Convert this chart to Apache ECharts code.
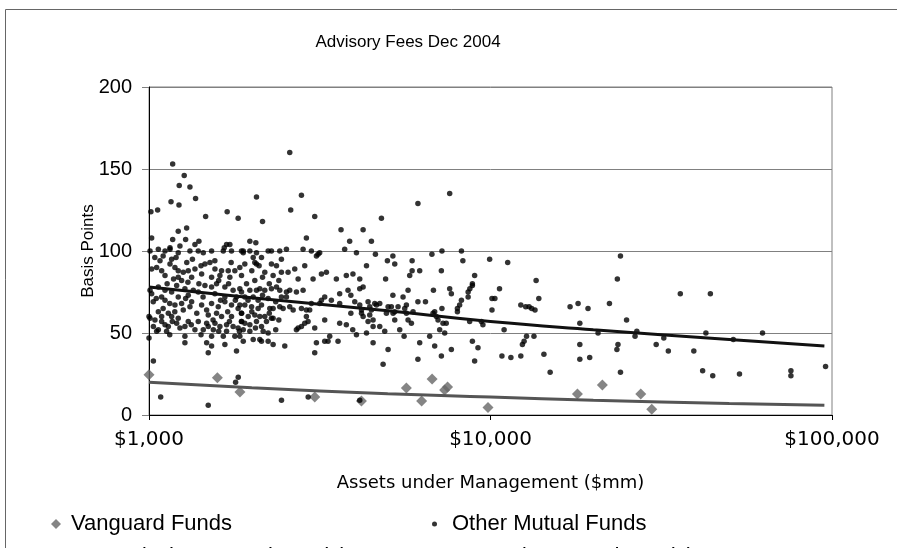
<!DOCTYPE html>
<html>
<head>
<meta charset="utf-8">
<script src="https://cdn.jsdelivr.net/npm/echarts@6/dist/echarts.min.js"></script>
<style>
    html, body { margin: 0; padding: 0; background: #fff; }
    #chart { width: 897px; height: 548px; }
</style>
</head>
<body>
<div id="chart"></div>
<script>
    // Vanguard funds: assets ($mm) and fee (basis points)
    const vanguardAum = [1000, 1586, 1846, 3058, 4188, 5670, 6285, 6745, 7338, 7486, 9834, 17970, 21260, 27540, 29660];
    const vanguardFee = [24.5, 22.7, 14, 11, 8.5, 16.5, 8.5, 22, 15.2, 17, 4.5, 12.8, 18.3, 12.8, 3.5];

    // other mutual funds: [assets ($mm), fee (bp)]
    const otherFunds = [
        [1160,130],[1224,128],[1369,132],[1013,124],[1060,125],[1465,121],[1694,124],[1824,120],
        [1218,112],[1289,114],[1018,108],[1173,107],[1280,107],[1363,104],[1400,106],[1232,103],[1152,102],[1687,104],[1725,104],[1661,102],
        [1007,100],[1065,101],[1114,100],[1152,101],[1218,99],[1318,100],[1394,100],[1442,99],[1525,100],[1650,100],[1744,100],[1866,100],
        [1077,94],[1165,95],[1018,89],[1053,90],[1089,88],[1152,92],[1191,90],[1218,88],[1260,87],[1303,88],[1363,89],[1458,92],[1508,93],[1559,94],
        [1631,88],[1706,88],[1784,88],[1845,90],[1114,85],[1218,84],[1333,84],[1426,86],[1525,84],[1613,85],[1725,84],[1866,85],
        [1246,82],[1205,79],[1007,76],[1065,78],[1114,76],[1165,75],[1274,77],[1348,76],[1458,79],[1525,78],[1577,80],[1668,78],[1763,76],[1845,77],
        [1018,74],[1089,72],[1218,72],[1303,73],[1394,75],[1559,74],[1668,72],[1804,72],
        [1029,69],[1114,70],[1191,67],[1246,68],[1333,69],[1426,67],[1475,64],[1525,68],[1595,66],[1668,69],[1744,67],[1824,65],
        [1065,63],[1139,62],[1260,64],[1318,66],[1491,61],[1577,62],[1631,60],[1744,60],[1866,62],[1000,60],[1089,60],[1165,60],[1218,59],
        [1007,59],[1041,58],[1089,57],[1114,55],[1065,52],[1139,54],[1205,56],[1232,53],[1274,54],[1303,57],[1394,57],[1475,56],[1491,54],
        [1543,52],[1613,54],[1687,55],[1763,54],[1824,53],[1866,57],[1053,51],[1126,51],[1363,52],[1442,52],[1687,51],
        [1000,47],[1274,48],[1525,48],[1650,48],[1784,48],[1274,44],[1475,44],[1668,43],[1804,39],[1491,38],
        [1173,153],[1268,146],[1226,140],[1318,139],[1030,33],[1082,11],[1491,6],[1825,23],[1793,20],[1525,42],
        [1040,96],[1100,97],[1200,96],[1290,93],[1340,95],[1420,91],[1560,89],[1740,93],[1130,80],[1180,83],[1300,81],[1400,80],
        [1600,82],[1710,80],[1050,71],[1150,68],[1280,71],[1440,72],[1620,70],[1790,70],[1100,65],[1190,63],[1380,62],[1540,58],
        [1700,63],[1030,54],[1170,57],[1330,55],[1560,56],[1720,57],[1150,49],[1420,49],[1600,51],[1840,51],
        [2064,133],[2795,134],[2600,125],[2150,118],[3057,121],[3650,113],[2890,108],[3869,106],[2583,160],
        [1974,106],[2055,105],[1888,100],[1974,100],[2064,99],[2233,100],[2283,100],[2415,100],[2526,101],[2826,101],[2989,100],[3161,99],
        [3092,97],[3126,98],[3741,101],[1888,99],
        [2019,96],[2135,96],[1908,92],[2041,93],[2064,92],[2101,91],[2283,92],[2362,91],[2442,95],[2183,87],[2309,85],[2442,87],[2554,87],
        [2672,89],[2858,91],[2733,83],[3023,83],[3198,86],[3537,83],[3783,85],[3307,87],
        [2041,82],[1930,80],[1974,76],[2064,76],[2111,77],[2183,76],[2283,77],[2362,78],[2415,76],[2526,75],[2583,76],[2702,75],[2826,76],
        [3617,74],[3826,76],[1866,75],
        [1908,72],[2019,72],[2087,70],[2233,71],[2442,72],[2526,72],[2989,68],[3198,70],[3270,72],[3420,70],[3617,68],[3161,68],[1845,67],
        [1908,67],[1997,66],[2087,65],[2135,67],[2258,65],[2309,65],[2415,66],[2470,65],[2583,66],[2643,64],[2795,65],[2890,64],[2955,64],
        [1866,62],[1952,60],[2041,61],[2111,60],[2183,60],[2283,59],[1866,57],[1908,56],[1974,55],[2064,57],[2135,54],[2208,57],[2309,59],
        [2890,60],[2923,57],[2858,56],[2795,54],[2733,53],[3057,53],[3270,58],[3617,56],[3783,55],[2702,52],
        [1888,52],[1974,51],[2159,51],[2233,50],[1845,48],[1888,45],[2019,46],[2111,46],[2135,45],[2233,45],[2309,43],[2498,42],[3092,44],
        [3344,45],[3577,45],[3382,48],[3057,38],[3270,45],[2443,9],[2925,11],[4141,9],
        [2000,88],[2150,84],[2250,80],[2400,82],[1950,70],[2150,73],[2350,69],[2000,63],[2250,62],[2400,58],[2050,53],[2350,52],
        [7594,135],[6130,129],[4793,120],[4236,113],[4480,106],[4050,99],[4603,98],[4334,91],[4990,94],[5178,97],[5243,92],[5895,94],
        [5800,85],[5895,88],[6204,88],[6736,98],[7207,100],[8220,100],[8300,94],[7180,88],[4930,83],[4141,83],[4141,77],[4236,78],
        [8986,85],[8850,80],[8850,79],[8700,77],[8600,75],[8600,72],[8220,70],[8120,67],[8000,65],[8000,63],
        [6806,76],[7594,77],[7680,74],[5736,76],[5178,73],[5545,72],[6130,69],[6450,69],
        [4004,69],[4141,67],[4190,64],[4190,62],[4236,60],[4380,69],[4430,66],[4480,64],[4430,61],[4582,68],[4634,67],[4739,68],[5013,66],
        [5125,66],[4957,62],[5184,62],[5243,63],[5243,58],[5362,66],[5608,65],[5672,67],[5672,62],[5736,58],[5866,56],[5932,63],[6788,62],
        [6864,63],[6942,60],[7020,58],[7207,65],[7260,56],[7420,56],[7099,52],[7342,50],[8689,57],[9500,55],[4050,49],[4334,50],[4380,57],
        [4531,58],[4531,54],[4739,54],[4901,51],[5422,52],[5584,48],[6204,44],[6636,48],[6864,42],[7180,36],[7680,40],[8850,45],[9190,41],
        [8986,33],[6130,34],[4847,31],[5013,40],[4531,44],[3955,86],[3900,73],[3900,62],[3950,52],[9400,57],
        [9942,95],[11229,93],[24020,97],[23520,83],[13600,82],[10626,77],[10100,71],[10300,71],[10100,64],[12268,67],[12680,66],[12970,66],
        [13200,65],[13500,64],[13850,71],[17100,66],[18050,68],[19300,65],[22300,68],[25030,58],[18262,56],[10960,52],[20650,50],[26820,51],
        [26500,48],[13404,48],[12750,48],[12542,45],[12400,43],[18262,43],[23620,43],[23450,40],[10800,36],[11474,35],[12268,36],[14335,37],
        [18262,34],[19520,35],[14950,26],[24020,26],
        [35960,74],[44040,74],[42730,50],[62600,50],[30560,43],[33170,39],[39390,39],[32170,47],[51400,46],[41800,27],[44750,24],[53590,25],
        [75800,27],[75800,24],[95750,29.5]
    ];

    // power trend lines
    const trendAum = [1000, 2000, 5000, 10000, 20000, 50000, 95000];
    const otherTrend = [78, 71.5, 63.5, 57, 52, 46, 42];
    const vanguardTrend = [20, 16.6, 13, 11, 9, 7, 6];

    const yTicks = [0, 50, 100, 150, 200];

    const myChart = echarts.init(document.getElementById("chart"));
    const font = "Liberation Sans, Arial, sans-serif";
    const wide = "DejaVu Sans, sans-serif";

    const option = {
        backgroundColor: "#fff",
        animation: false,
        title: {
            text: "Advisory Fees Dec 2004",
            left: 403,
            top: 29,
            textAlign: "center",
            textStyle: { fontFamily: font, fontSize: 17, fontWeight: "normal", color: "#000" }
        },
        grid: {
            left: 149, right: 65, top: 87, bottom: 133,
            show: true, borderColor: "#808080", borderWidth: 1
        },
        xAxis: {
            type: "log",
            logBase: 10,
            min: 1000,
            max: 100000,
            name: "Assets under Management ($mm)",
            nameLocation: "middle",
            nameGap: 59,
            nameTextStyle: { fontFamily: wide, fontSize: 18, color: "#000" },
            axisLine: { lineStyle: { color: "#000", width: 1 } },
            axisTick: { show: true, length: 5, lineStyle: { color: "#000" } },
            minorTick: { show: false },
            axisLabel: {
                fontFamily: wide, fontSize: 20, color: "#000", margin: 15,
                formatter: v => "$" + Math.round(v).toLocaleString("en-US")
            },
            splitLine: { show: false }
        },
        yAxis: {
            type: "value",
            min: yTicks[0],
            max: yTicks[yTicks.length - 1],
            interval: 50,
            name: "Basis Points",
            nameLocation: "middle",
            nameGap: 52,
            nameMoveOverlap: false,
            nameTextStyle: { fontFamily: font, fontSize: 17, color: "#000" },
            axisLine: { show: true, lineStyle: { color: "#000", width: 1 } },
            axisTick: { show: true, length: 7, lineStyle: { color: "#808080" } },
            axisLabel: { fontFamily: font, fontSize: 20, color: "#000", margin: 17 },
            splitLine: { lineStyle: { color: "#808080", width: 1 } }
        },
        legend: [
            {
                data: [{ name: "Vanguard Funds", icon: "diamond" }],
                left: 46, top: 508, itemWidth: 10, itemHeight: 10, selectedMode: false,
                textStyle: { fontFamily: font, fontSize: 22, color: "#000", padding: [0, 0, 0, 5] }
            },
            {
                data: [{ name: "Other Mutual Funds", icon: "circle" }],
                left: 427, top: 508, itemWidth: 5, itemHeight: 5, selectedMode: false,
                textStyle: { fontFamily: font, fontSize: 22, color: "#000", padding: [0, 0, 0, 10] }
            },
            {
                data: [{ name: "Power (Other Mutual Funds)", icon: "rect" }],
                left: 40, top: 541, itemWidth: 20, itemHeight: 3, selectedMode: false,
                textStyle: { fontFamily: font, fontSize: 22, color: "#000" }
            },
            {
                data: [{ name: "Power (Vanguard Funds)", icon: "rect" }],
                left: 420, top: 541, itemWidth: 20, itemHeight: 3, selectedMode: false,
                textStyle: { fontFamily: font, fontSize: 22, color: "#000" }
            }
        ],
        graphic: [
            {
                type: "rect",
                silent: true,
                z: -1,
                shape: { x: 5.5, y: 9.5, width: 1000, height: 1000 },
                style: { fill: null, stroke: "#666", lineWidth: 1 }
            }
        ],
        series: [
            {
                name: "Vanguard Funds",
                type: "scatter",
                symbol: "diamond",
                symbolSize: 11,
                itemStyle: { color: "#666" },
                data: vanguardAum.map((a, i) => [a, vanguardFee[i]])
            },
            {
                name: "Other Mutual Funds",
                type: "scatter",
                symbol: "circle",
                symbolSize: 5.5,
                itemStyle: { color: "#000" },
                data: otherFunds
            },
            {
                name: "Power (Other Mutual Funds)",
                type: "line",
                showSymbol: false,
                smooth: true,
                itemStyle: { color: "#111" },
                lineStyle: { color: "#111", width: 3 },
                data: trendAum.map((a, i) => [a, otherTrend[i]]),
                z: 3
            },
            {
                name: "Power (Vanguard Funds)",
                type: "line",
                showSymbol: false,
                smooth: true,
                itemStyle: { color: "#555" },
                lineStyle: { color: "#555", width: 3 },
                data: trendAum.map((a, i) => [a, vanguardTrend[i]]),
                z: 3
            }
        ]
    };

    myChart.setOption(option);
</script>
</body>
</html>
